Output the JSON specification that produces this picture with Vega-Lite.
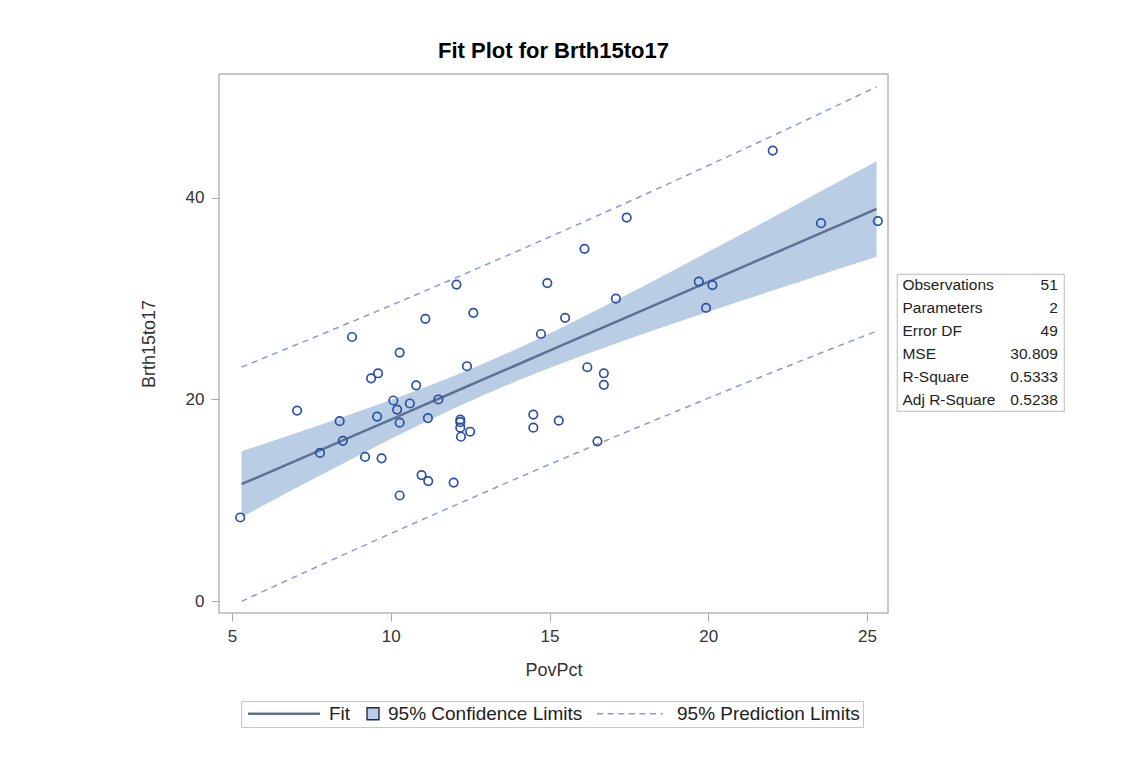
{
  "$schema": "https://vega.github.io/schema/vega-lite/v6.json",
  "background": "white",
  "padding": {"left": 139, "top": 39, "right": 5, "bottom": 5},
  "config": {
    "font": "Liberation Sans",
    "view": {"stroke": "#b4b8bc", "strokeWidth": 1.5},
    "axis": {
      "domain": false, "grid": false, "tickColor": "#a4a8ac", "tickSize": 8, "tickWidth": 1,
      "labelFont": "Liberation Sans", "labelFontSize": 17, "labelColor": "#333333",
      "titleFont": "Liberation Sans", "titleFontSize": 18, "titleFontWeight": "normal", "titleColor": "#333333"
    }
  },
  "datasets": {
    "curve": [
      {"PovPct": 5.3, "Fit": 11.59, "LCL": 8.32, "UCL": 14.86, "LPL": -0.03, "UPL": 23.21},
      {"PovPct": 6, "Fit": 12.55, "LCL": 9.5, "UCL": 15.59, "LPL": 0.98, "UPL": 24.11},
      {"PovPct": 7, "Fit": 13.91, "LCL": 11.18, "UCL": 16.65, "LPL": 2.43, "UPL": 25.4},
      {"PovPct": 8, "Fit": 15.28, "LCL": 12.84, "UCL": 17.72, "LPL": 3.86, "UPL": 26.7},
      {"PovPct": 9, "Fit": 16.64, "LCL": 14.47, "UCL": 18.82, "LPL": 5.28, "UPL": 28.01},
      {"PovPct": 10, "Fit": 18.01, "LCL": 16.08, "UCL": 19.95, "LPL": 6.69, "UPL": 29.33},
      {"PovPct": 11, "Fit": 19.38, "LCL": 17.63, "UCL": 21.12, "LPL": 8.09, "UPL": 30.67},
      {"PovPct": 12, "Fit": 20.74, "LCL": 19.13, "UCL": 22.36, "LPL": 9.47, "UPL": 32.01},
      {"PovPct": 13, "Fit": 22.11, "LCL": 20.55, "UCL": 23.67, "LPL": 10.84, "UPL": 33.37},
      {"PovPct": 14, "Fit": 23.47, "LCL": 21.88, "UCL": 25.07, "LPL": 12.21, "UPL": 34.74},
      {"PovPct": 15, "Fit": 24.84, "LCL": 23.13, "UCL": 26.55, "LPL": 13.56, "UPL": 36.13},
      {"PovPct": 16, "Fit": 26.21, "LCL": 24.32, "UCL": 28.1, "LPL": 14.89, "UPL": 37.52},
      {"PovPct": 17, "Fit": 27.57, "LCL": 25.46, "UCL": 29.69, "LPL": 16.22, "UPL": 38.93},
      {"PovPct": 18, "Fit": 28.94, "LCL": 26.56, "UCL": 31.32, "LPL": 17.53, "UPL": 40.34},
      {"PovPct": 19, "Fit": 30.3, "LCL": 27.64, "UCL": 32.97, "LPL": 18.83, "UPL": 41.77},
      {"PovPct": 20, "Fit": 31.67, "LCL": 28.7, "UCL": 34.65, "LPL": 20.13, "UPL": 43.22},
      {"PovPct": 21, "Fit": 33.04, "LCL": 29.74, "UCL": 36.33, "LPL": 21.41, "UPL": 44.67},
      {"PovPct": 22, "Fit": 34.4, "LCL": 30.78, "UCL": 38.02, "LPL": 22.67, "UPL": 46.13},
      {"PovPct": 23, "Fit": 35.77, "LCL": 31.81, "UCL": 39.72, "LPL": 23.93, "UPL": 47.6},
      {"PovPct": 24, "Fit": 37.13, "LCL": 32.84, "UCL": 41.43, "LPL": 25.18, "UPL": 49.09},
      {"PovPct": 25.3, "Fit": 38.91, "LCL": 34.17, "UCL": 43.65, "LPL": 26.79, "UPL": 51.03}
    ],
    "obs": [
      {"PovPct": 8.78, "Brth15to17": 26.2}, {"PovPct": 10.28, "Brth15to17": 24.65},
      {"PovPct": 9.38, "Brth15to17": 22.1}, {"PovPct": 9.6, "Brth15to17": 22.6},
      {"PovPct": 12.4, "Brth15to17": 23.3}, {"PovPct": 10.8, "Brth15to17": 21.4},
      {"PovPct": 7.05, "Brth15to17": 18.9}, {"PovPct": 10.08, "Brth15to17": 19.9},
      {"PovPct": 10.2, "Brth15to17": 19.0}, {"PovPct": 10.6, "Brth15to17": 19.6},
      {"PovPct": 11.5, "Brth15to17": 20.0}, {"PovPct": 8.39, "Brth15to17": 17.85},
      {"PovPct": 9.57, "Brth15to17": 18.3}, {"PovPct": 10.28, "Brth15to17": 17.7},
      {"PovPct": 11.17, "Brth15to17": 18.15}, {"PovPct": 12.19, "Brth15to17": 18.0},
      {"PovPct": 12.19, "Brth15to17": 17.75}, {"PovPct": 12.19, "Brth15to17": 17.2},
      {"PovPct": 12.5, "Brth15to17": 16.8}, {"PovPct": 12.21, "Brth15to17": 16.3},
      {"PovPct": 8.49, "Brth15to17": 15.9}, {"PovPct": 7.77, "Brth15to17": 14.7},
      {"PovPct": 9.19, "Brth15to17": 14.3}, {"PovPct": 9.71, "Brth15to17": 14.16},
      {"PovPct": 10.97, "Brth15to17": 12.5}, {"PovPct": 11.18, "Brth15to17": 11.9},
      {"PovPct": 11.98, "Brth15to17": 11.75}, {"PovPct": 10.28, "Brth15to17": 10.47},
      {"PovPct": 5.26, "Brth15to17": 8.29}, {"PovPct": 17.43, "Brth15to17": 38.05},
      {"PovPct": 16.1, "Brth15to17": 34.95}, {"PovPct": 14.93, "Brth15to17": 31.55},
      {"PovPct": 19.7, "Brth15to17": 31.7}, {"PovPct": 20.13, "Brth15to17": 31.35},
      {"PovPct": 17.09, "Brth15to17": 30.0}, {"PovPct": 19.93, "Brth15to17": 29.1},
      {"PovPct": 15.49, "Brth15to17": 28.1}, {"PovPct": 14.73, "Brth15to17": 26.5},
      {"PovPct": 16.19, "Brth15to17": 23.2}, {"PovPct": 16.71, "Brth15to17": 22.6},
      {"PovPct": 16.71, "Brth15to17": 21.45}, {"PovPct": 14.49, "Brth15to17": 18.5},
      {"PovPct": 14.49, "Brth15to17": 17.2}, {"PovPct": 15.29, "Brth15to17": 17.9},
      {"PovPct": 16.51, "Brth15to17": 15.85}, {"PovPct": 22.03, "Brth15to17": 44.7},
      {"PovPct": 23.55, "Brth15to17": 37.5}, {"PovPct": 25.34, "Brth15to17": 37.7},
      {"PovPct": 11.09, "Brth15to17": 28.0}, {"PovPct": 12.6, "Brth15to17": 28.6},
      {"PovPct": 12.07, "Brth15to17": 31.4}
    ],
    "stats": [
      {"stat": "Observations", "value": "51"},
      {"stat": "Parameters", "value": "2"},
      {"stat": "Error DF", "value": "49"},
      {"stat": "MSE", "value": "30.809"},
      {"stat": "R-Square", "value": "0.5333"},
      {"stat": "Adj R-Square", "value": "0.5238"}
    ]
  },
  "hconcat": [
    {
      "width": 669,
      "height": 539,
      "title": {"text": "Fit Plot for Brth15to17", "fontSize": 22, "fontWeight": "bold", "color": "#000000", "offset": -6, "baseline": "alphabetic", "anchor": "middle"},
      "encoding": {
        "x": {"field": "PovPct", "type": "quantitative",
              "scale": {"domain": [4.59, 25.66], "nice": false, "zero": false},
              "axis": {"values": [5, 10, 15, 20, 25], "title": "PovPct", "labelPadding": 7, "titlePadding": 17}}
      },
      "layer": [
        {
          "data": {"name": "curve"},
          "mark": {"type": "area", "color": "#b9cde5", "opacity": 1},
          "encoding": {
            "y": {"field": "LCL", "type": "quantitative",
                  "scale": {"domain": [-1.19, 52.3], "nice": false, "zero": false},
                  "axis": {"values": [0, 20, 40], "title": "Brth15to17", "labelPadding": 7, "titlePadding": 27}},
            "y2": {"field": "UCL"}
          }
        },
        {
          "data": {"name": "curve"},
          "mark": {"type": "line", "color": "#8e97db", "strokeWidth": 1.5, "strokeDash": [6, 5]},
          "encoding": {"y": {"field": "UPL", "type": "quantitative"}}
        },
        {
          "data": {"name": "curve"},
          "mark": {"type": "line", "color": "#8e97db", "strokeWidth": 1.5, "strokeDash": [6, 5]},
          "encoding": {"y": {"field": "LPL", "type": "quantitative"}}
        },
        {
          "data": {"name": "curve"},
          "mark": {"type": "line", "strokeWidth": 2.5},
          "encoding": {
            "y": {"field": "Fit", "type": "quantitative"},
            "color": {
              "datum": "Fit",
              "type": "nominal",
              "scale": {"domain": ["Fit", "95% Confidence Limits", "95% Prediction Limits"], "range": ["#5d7293", "#1c2d55", "#8e97db"]},
              "legend": {
                "title": null,
                "orient": "none",
                "legendX": 22,
                "legendY": 627,
                "direction": "horizontal",
                "padding": 3,
                "strokeColor": "#c4c8cc",
                "fillColor": "white",
                "labelFontSize": 19,
                "labelFont": "Liberation Sans",
                "labelColor": "#222222",
                "labelLimit": 500,
                "labelOffset": 8,
                "columnPadding": 10,
                "encode": {
                  "symbols": {
                    "update": {
                      "shape": {"signal": "datum.value === 'Fit' ? 'M-0.2,0H2.418' : datum.value === '95% Confidence Limits' ? 'M-0.127,-0.218H0.309V0.218H-0.127Z' : 'M-2.273,0H0.127'"},
                      "fill": {"signal": "datum.value === '95% Confidence Limits' ? '#b9cde5' : 'transparent'"},
                      "stroke": {"signal": "datum.value === 'Fit' ? '#5d7293' : datum.value === '95% Confidence Limits' ? '#1c2d55' : '#8e97db'"},
                      "strokeWidth": {"signal": "datum.value === 'Fit' ? 2.5 : datum.value === '95% Confidence Limits' ? 1.4 : 1.5"},
                      "strokeDash": {"signal": "datum.value === '95% Prediction Limits' ? [6, 4.6] : []"},
                      "strokeOpacity": {"value": 1},
                      "fillOpacity": {"value": 1},
                      "size": {"value": 3025},
                      "opacity": {"value": 1}
                    }
                  },
                  "labels": {
                    "update": {
                      "dx": {"signal": "datum.value === 'Fit' ? 58 : 0"}
                    }
                  }
                }
              }
            }
          }
        },
        {
          "data": {"name": "obs"},
          "mark": {"type": "point", "shape": "circle", "filled": false, "color": "#2b50a6", "size": 72, "strokeWidth": 1.7, "opacity": 1},
          "encoding": {"y": {"field": "Brth15to17", "type": "quantitative"}}
        }
      ]
    },
    {
      "spacing": 0,
      "vconcat": [
        {
          "width": 167,
          "height": 199,
          "view": {"stroke": null},
          "data": {"values": []},
          "mark": "point"
        },
        {
          "width": 167,
          "height": 137,
          "view": {"stroke": "#c4c8cc", "strokeWidth": 1.2},
          "data": {"name": "stats"},
          "encoding": {
            "y": {"field": "stat", "type": "nominal", "sort": null, "axis": null, "scale": {"type": "point", "padding": 0.5}}
          },
          "layer": [
            {
              "mark": {"type": "text", "align": "left", "baseline": "middle", "fontSize": 15.5, "font": "Liberation Sans", "color": "#222222"},
              "encoding": {
                "x": {"datum": 0, "type": "quantitative", "scale": {"domain": [-0.035, 1.04], "nice": false, "zero": false}, "axis": null},
                "text": {"field": "stat"}
              }
            },
            {
              "mark": {"type": "text", "align": "right", "baseline": "middle", "fontSize": 15.5, "font": "Liberation Sans", "color": "#222222"},
              "encoding": {
                "x": {"datum": 1, "type": "quantitative"},
                "text": {"field": "value"}
              }
            }
          ]
        }
      ]
    }
  ],
  "spacing": 7,
  "resolve": {"legend": {"color": "independent"}, "scale": {"color": "independent"}}
}
